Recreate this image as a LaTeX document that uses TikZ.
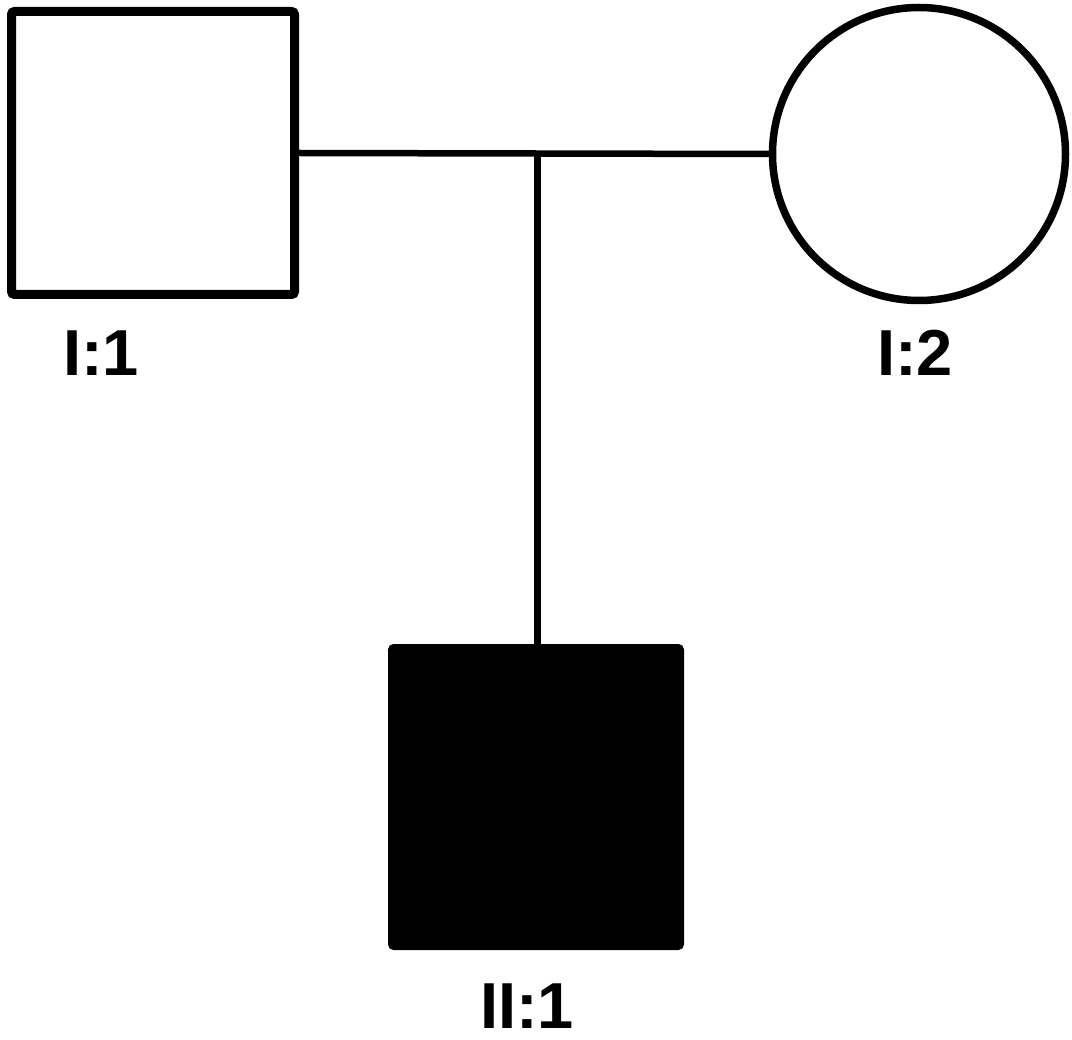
\documentclass[tikz,border=0pt]{standalone}
\usepackage{fontspec}
\setmainfont{Liberation Sans}
\begin{document}
\begin{tikzpicture}[x=1pt,y=-1pt,
  male/.style={draw=black,line width=9pt,rounded corners=3pt,minimum width=283pt,minimum height=283pt,inner sep=0pt,fill=white},
  affected/.style={draw=black,line width=6pt,rounded corners=3pt,minimum width=290pt,minimum height=300pt,inner sep=0pt,fill=black},
  female/.style={draw=black,line width=7.5pt,circle,minimum size=293pt,inner sep=0pt,fill=white},
  lbl/.style={font=\fontsize{65}{65}\selectfont\bfseries,inner sep=0pt,anchor=base},
  rel/.style={draw=black,line width=6.5pt}]
\useasboundingbox (0,0) rectangle (1072,1040);
\node[male] (i1) at (153,153) {};
\node[female] (i2) at (919,154) {};
\node[affected] (ii1) at (536,797) {};
\coordinate (m) at (537,152);
\draw[rel] (i1.east) -- (i2.west);
\draw[rel,line width=7pt] (m) -- (ii1.north -| m);
\node[lbl] (l1) at (101,376) {I:1};
\node[lbl] (l2) at (915,376) {I:2};
\node[lbl] (l3) at (527,1028) {II:1};
\end{tikzpicture}
\end{document}
